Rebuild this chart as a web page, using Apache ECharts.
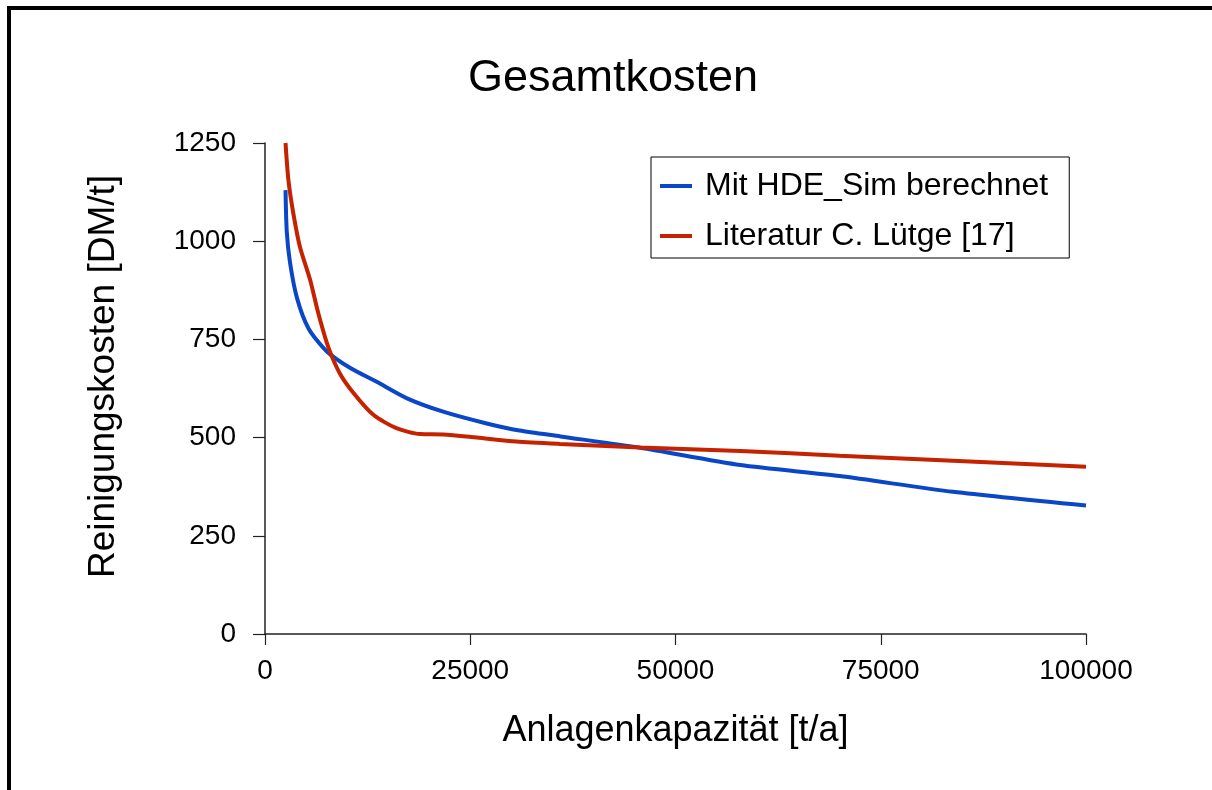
<!DOCTYPE html>
<html>
<head>
<meta charset="utf-8">
<script src="https://cdn.jsdelivr.net/npm/echarts@6/dist/echarts.min.js"></script>
<style>
  html, body { margin: 0; padding: 0; background: #fff; }
  #chart { width: 1212px; height: 790px; }
</style>
</head>
<body>
<div id="chart"></div>
<script>
// Plant capacity [t/a] and cleaning cost [DM/t]
const hdeCapacity = [2500, 2650, 3050, 3900, 5300, 7500, 10400, 13600, 17300, 21700, 27000, 31000, 36000, 45700, 57900, 70000, 83800, 100000];
const hdeCost     = [1130, 1025, 945, 855, 778, 720, 677, 642, 600, 566, 536, 518, 503, 474, 430, 402, 362, 327];

const litCapacity = [2500, 2850, 3450, 4250, 5500, 6500, 7700, 9100, 10800, 13200, 16000, 18900, 21700, 25800, 30600, 35900, 45700, 57900, 70000, 83800, 100000];
const litCost     = [1250, 1156, 1071, 986, 901, 816, 731, 664, 613, 558, 524, 509, 508, 500, 490, 484, 475, 466, 454, 441, 426];

const seriesNames = ['Mit HDE_Sim berechnet', 'Literatur C. Lütge [17]'];
const titleText = 'Gesamtkosten';
const xAxisTitle = 'Anlagenkapazität [t/a]';
const yAxisTitle = 'Reinigungskosten [DM/t]';

const FONT = '"Liberation Sans", Arial, Helvetica, sans-serif';
const BLUE = '#0a46c8';
const RED = '#c42200';
const AXIS = '#222';

const pairs = (xs, ys) => xs.map((x, i) => [x, ys[i]]);
const plain = v => String(v);

const chart = echarts.init(document.getElementById('chart'), null, { renderer: 'canvas' });

chart.setOption({
  backgroundColor: '#fff',
  animation: false,
  title: {
    text: titleText,
    left: 608,
    textAlign: 'center',
    top: 51,
    textStyle: { fontFamily: FONT, fontSize: 45, fontWeight: 'normal', color: '#000' }
  },
  legend: {
    orient: 'vertical',
    left: 651,
    top: 157,
    padding: [11, 21, 4, 9],
    itemGap: 14,
    itemWidth: 32,
    itemHeight: 4,
    icon: 'rect',
    borderColor: '#000',
    borderWidth: 1,
    backgroundColor: '#fff',
    textStyle: { fontFamily: FONT, fontSize: 32, color: '#000', lineHeight: 36, padding: [0, 0, 0, 8] },
    data: seriesNames
  },
  grid: { left: 265, right: 126, top: 143, bottom: 156, containLabel: false },
  xAxis: {
    type: 'value',
    min: 0,
    max: 100000,
    interval: 25000,
    name: xAxisTitle,
    nameLocation: 'middle',
    nameGap: 79,
    nameTextStyle: { fontFamily: FONT, fontSize: 36, color: '#000' },
    axisLine: { show: true, onZero: false, lineStyle: { color: AXIS, width: 1.5 } },
    axisTick: { show: true, inside: false, length: 11, lineStyle: { color: AXIS, width: 1.2 } },
    axisLabel: { fontFamily: FONT, fontSize: 28, color: '#000', margin: 23, formatter: plain },
    splitLine: { show: false }
  },
  yAxis: {
    type: 'value',
    min: 0,
    max: 1250,
    interval: 250,
    name: yAxisTitle,
    nameLocation: 'middle',
    nameGap: 143,
    nameTextStyle: { fontFamily: FONT, fontSize: 37, color: '#000', padding: [0, 0, 0, 24] },
    axisLine: { show: true, onZero: false, lineStyle: { color: AXIS, width: 1.5 } },
    axisTick: { show: true, inside: false, length: 12, lineStyle: { color: AXIS, width: 1.2 } },
    axisLabel: { fontFamily: FONT, fontSize: 28, color: '#000', margin: 29, formatter: plain },
    splitLine: { show: false }
  },
  series: [
    {
      name: seriesNames[0],
      type: 'line',
      data: pairs(hdeCapacity, hdeCost),
      showSymbol: false,
      smooth: 0.25,
      itemStyle: { color: BLUE },
      lineStyle: { color: BLUE, width: 4 }
    },
    {
      name: seriesNames[1],
      type: 'line',
      data: pairs(litCapacity, litCost),
      showSymbol: false,
      smooth: 0.25,
      itemStyle: { color: RED },
      lineStyle: { color: RED, width: 4 }
    }
  ],
  graphic: [
    // frame: top and left edges
    { type: 'line', silent: true, shape: { x1: 7, y1: 8, x2: 1212, y2: 8 }, style: { stroke: '#000', lineWidth: 4 } },
    { type: 'line', silent: true, shape: { x1: 9, y1: 6, x2: 9, y2: 790 }, style: { stroke: '#000', lineWidth: 4 } }
  ]
});
</script>
</body>
</html>
